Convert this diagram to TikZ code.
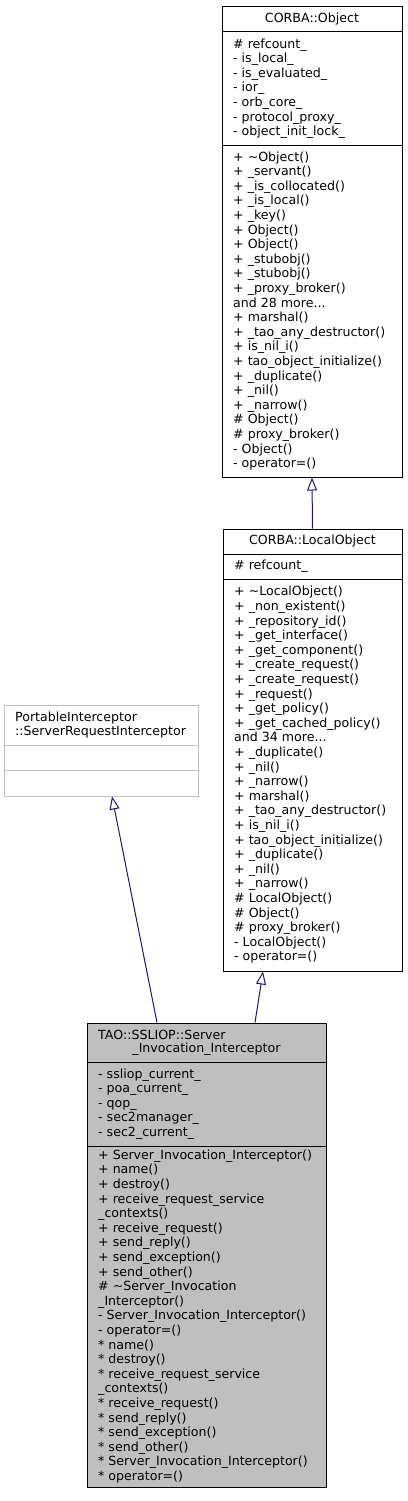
\documentclass[tikz,border=0pt]{standalone}
\usepackage{fontspec}
\newfontfamily\djfont{DejaVu Sans}
\usetikzlibrary{arrows.meta}
\definecolor{midnight}{HTML}{191970}
\definecolor{lgray}{HTML}{BFBFBF}
\definecolor{fillgray}{HTML}{BFBFBF}
\tikzset{
  classbox/.style={rectangle, draw=black, line width=1pt, fill=white, inner sep=0pt},
  extbox/.style={rectangle, draw=lgray, line width=1pt, fill=white, inner sep=0pt},
  mainbox/.style={rectangle, draw=black, line width=1pt, fill=fillgray, inner sep=0pt},
  sep/.style={draw=black, line width=1pt},
  extsep/.style={draw=lgray, line width=1pt},
  txt/.style={anchor=west, align=left, inner sep=0pt, font=\djfont\fontsize{12.6}{14.6}\selectfont},
  ttl/.style={anchor=center, align=center, inner sep=0pt, font=\djfont\fontsize{12.6}{14.6}\selectfont},
  edge/.style={draw=midnight, line width=1pt, -{Triangle[length=13pt,width=10pt,fill=white]}}
}
\begin{document}
\begin{tikzpicture}[x=1pt,y=-1pt]
\useasboundingbox (0,0) rectangle (407,1501);
% CORBA::Object
\node[classbox, minimum width=180pt, minimum height=470pt] (obj) at (312,242) {};
\draw[sep] (222,32) -- (402,32);
\draw[sep] (222,145) -- (402,145);
\node[ttl] (objt) at (312,19.5) {CORBA::Object};
\node[txt] (obja) at (233,88.5) {\# refcount\_\\- is\_local\_\\- is\_evaluated\_\\- ior\_\\- orb\_core\_\\- protocol\_proxy\_\\- object\_init\_lock\_};
\node[txt] (objm) at (233,311) {+ \textasciitilde Object()\\+ \_servant()\\+ \_is\_collocated()\\+ \_is\_local()\\+ \_key()\\+ Object()\\+ Object()\\+ \_stubobj()\\+ \_stubobj()\\+ \_proxy\_broker()\\and 28 more...\\+ marshal()\\+ \_tao\_any\_destructor()\\+ is\_nil\_i()\\+ tao\_object\_initialize()\\+ \_duplicate()\\+ \_nil()\\+ \_narrow()\\\# Object()\\\# proxy\_broker()\\- Object()\\- operator=()};
% CORBA::LocalObject
\node[classbox, minimum width=179pt, minimum height=442pt] (lo) at (312.5,750) {};
\draw[sep] (223,554) -- (402,554);
\draw[sep] (223,579) -- (402,579);
\node[ttl] (lot) at (312.5,541.5) {CORBA::LocalObject};
\node[txt] (loa) at (234,566.5) {\# refcount\_};
\node[txt] (lom) at (234,775) {+ \textasciitilde LocalObject()\\+ \_non\_existent()\\+ \_repository\_id()\\+ \_get\_interface()\\+ \_get\_component()\\+ \_create\_request()\\+ \_create\_request()\\+ \_request()\\+ \_get\_policy()\\+ \_get\_cached\_policy()\\and 34 more...\\+ \_duplicate()\\+ \_nil()\\+ \_narrow()\\+ marshal()\\+ \_tao\_any\_destructor()\\+ is\_nil\_i()\\+ tao\_object\_initialize()\\+ \_duplicate()\\+ \_nil()\\+ \_narrow()\\\# LocalObject()\\\# Object()\\\# proxy\_broker()\\- LocalObject()\\- operator=()};
% PortableInterceptor::ServerRequestInterceptor
\node[extbox, minimum width=194pt, minimum height=91pt] (pi) at (101,750.5) {};
\draw[extsep] (4,745) -- (198,745);
\draw[extsep] (4,770) -- (198,770);
\node[txt] (pit) at (15,725) {PortableInterceptor\\::ServerRequestInterceptor};
% TAO::SSLIOP::Server_Invocation_Interceptor
\node[mainbox, minimum width=239pt, minimum height=464pt] (main) at (206.5,1255) {};
\draw[sep] (87,1062) -- (326,1062);
\draw[sep] (87,1146) -- (326,1146);
\node[txt] (maint1) at (98,1035) {TAO::SSLIOP::Server};
\node[ttl] (maint2) at (206.5,1049) {\_Invocation\_Interceptor};
\node[txt] (maina) at (98,1104) {- ssliop\_current\_\\- poa\_current\_\\- qop\_\\- sec2manager\_\\- sec2\_current\_};
\node[txt] (mainm) at (98,1316.5) {+ Server\_Invocation\_Interceptor()\\+ name()\\+ destroy()\\+ receive\_request\_service\\\_contexts()\\+ receive\_request()\\+ send\_reply()\\+ send\_exception()\\+ send\_other()\\\# \textasciitilde Server\_Invocation\\\_Interceptor()\\- Server\_Invocation\_Interceptor()\\- operator=()\\* name()\\* destroy()\\* receive\_request\_service\\\_contexts()\\* receive\_request()\\* send\_reply()\\* send\_exception()\\* send\_other()\\* Server\_Invocation\_Interceptor()\\* operator=()};
% edges
\draw[edge] (lo.north) -- (obj.south);
\draw[edge] ([xshift=48.5pt]main.north) -- ([xshift=-49.5pt]lo.south);
\draw[edge] ([xshift=-49.5pt]main.north) -- ([xshift=11pt]pi.south);
\end{tikzpicture}
\end{document}
